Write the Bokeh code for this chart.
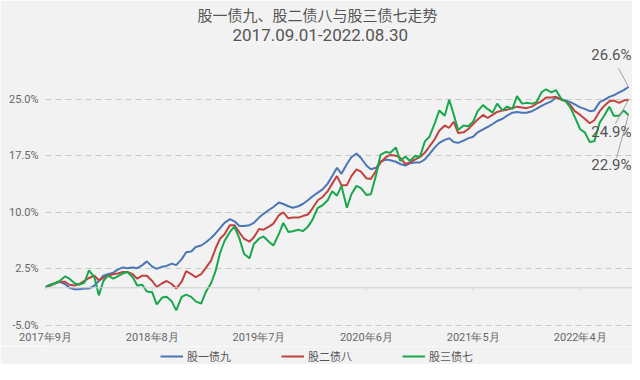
import pandas as pd
from bokeh.plotting import figure
from bokeh.layouts import column
from bokeh.models import (Range1d, FixedTicker, PrintfTickFormatter, Legend, LegendItem,
                          Span, Label, Title, ColumnDataSource)
from bokeh.embed import file_html
from bokeh.resources import INLINE

# ---------------- data ----------------
title_line1 = "股一债九、股二债八与股三债七走势"
title_line2 = "2017.09.01-2022.08.30"
series_names = ["股一债九", "股二债八", "股三债七"]
series_colors = ["#4a76b8", "#c0433f", "#17a84b"]
tick_dates = ["2017-09-01", "2018-08-01", "2019-07-01", "2020-06-01", "2021-05-01", "2022-04-01"]
tick_labels = ["2017年9月", "2018年8月", "2019年7月", "2020年6月", "2021年5月", "2022年4月"]
y_ticks = [-5.0, 2.5, 10.0, 17.5, 25.0]

# semi-monthly observation dates (1st and 15th) plus the final date
dates = list(pd.date_range("2017-09-01", periods=120, freq="SMS")) + [pd.Timestamp("2022-08-30")]

stock1_bond9 = [
    0.1, 0.3, 0.6, 0.8, 0.5, 0.0, -0.2, -0.2,
    -0.1, -0.1, 0.3, 0.9, 1.6, 1.8, 2.0, 2.4, 2.7, 2.6, 2.7, 2.6, 3.0, 3.5, 2.8, 2.5,
    2.8, 2.9, 3.2, 3.0, 3.8, 4.7, 4.8, 5.4,
    5.6, 6.0, 6.6, 7.2, 7.9, 8.6, 9.1, 8.8, 8.2, 8.2, 8.3, 8.6, 9.3, 9.8, 10.3, 10.7,
    11.3, 11.1, 10.8, 10.6, 10.8, 11.1, 11.6, 12.1,
    12.6, 13.0, 13.8, 14.8, 15.9, 15.1, 16.4, 17.3, 17.8, 17.2, 16.2, 15.7, 15.9, 16.7,
    17.0, 16.9, 16.7, 16.4, 16.2, 16.5, 16.6, 16.6, 17.0, 17.7,
    18.6, 19.2, 19.6, 19.8, 19.3, 19.2, 19.5, 19.8, 20.0, 20.6, 21.0, 21.3, 21.7, 22.1,
    22.4, 22.8, 23.2, 23.3, 23.2, 23.2, 23.4, 23.7, 24.1, 24.4,
    24.7, 25.2, 25.0, 24.8, 24.6, 24.3, 23.9, 23.7, 23.4, 23.5, 24.6, 24.9, 25.3, 25.5,
    25.9, 26.2, 26.6,
]
stock2_bond8 = [
    0.1, 0.3, 0.6, 0.8, 0.8, 0.4, 0.3, 0.5,
    0.9, 1.3, 1.6, 1.0, 1.3, 1.6, 1.8, 1.9, 2.1, 2.1, 1.8, 1.2, 1.6, 1.6, 0.9, 0.1,
    0.6, 0.9, 0.5, -0.1, 0.8, 2.2, 1.8, 1.4,
    1.8, 2.6, 3.6, 5.2, 6.5, 7.1, 8.3, 8.3, 7.3, 6.5, 6.1, 6.7, 7.8, 7.7, 8.1, 8.5,
    9.6, 10.0, 9.2, 9.3, 9.3, 9.5, 9.7, 10.5,
    11.6, 12.0, 12.8, 13.8, 14.8, 13.6, 13.6, 14.8, 15.7, 15.4, 14.5, 14.4, 15.5, 16.6,
    17.3, 17.6, 17.5, 17.2, 16.4, 16.6, 17.0, 17.3, 17.9, 18.7,
    19.7, 20.8, 21.5, 21.2, 22.0, 20.5, 20.6, 21.0, 21.7, 22.3, 22.9, 22.5, 22.9, 23.3,
    23.5, 23.6, 23.8, 24.0, 23.9, 23.8, 24.0, 24.4, 24.7, 25.2,
    25.2, 25.3, 24.9, 24.7, 24.2, 23.4, 22.9, 22.4, 21.8, 22.2, 23.4, 24.1, 24.7, 24.8,
    24.5, 24.8, 24.9,
]
stock3_bond7 = [
    0.1, 0.4, 0.6, 0.9, 1.5, 1.2, 0.6, 0.4,
    0.7, 2.3, 1.4, -1.0, 0.9, 1.6, 1.2, 1.5, 1.9, 2.1, 1.4, 0.3, 0.4, -0.5, -0.6, -2.2,
    -1.3, -1.2, -1.8, -3.0, -1.2, -0.9, -1.2, -1.8,
    -2.1, -0.6, 0.6, 2.2, 4.6, 6.2, 7.4, 8.1, 6.5, 4.5, 3.9, 5.8, 6.5, 6.8, 6.1, 5.6,
    7.1, 8.6, 7.4, 7.5, 7.7, 7.5, 8.1, 9.0,
    10.6, 10.9, 11.6, 12.8, 12.2, 13.5, 10.6, 12.4, 13.5, 13.2, 12.3, 12.4, 14.9, 17.6,
    18.0, 17.9, 18.6, 16.8, 17.4, 16.8, 17.5, 17.3, 19.4, 20.0,
    21.8, 23.5, 22.8, 24.9, 23.0, 20.9, 21.5, 21.4, 22.0, 23.4, 24.2, 23.7, 23.2, 24.4,
    23.5, 24.0, 23.7, 25.4, 24.4, 24.5, 24.4, 24.6, 25.9, 26.3,
    25.9, 26.2, 25.0, 24.7, 23.9, 22.6, 21.0, 20.6, 19.3, 19.4, 21.9, 22.8, 24.0, 22.8,
    22.8, 23.5, 22.9,
]
series_values = [stock1_bond9, stock2_bond8, stock3_bond7]

# ---------------- layout constants ----------------
PX_PER_DAY = 583 / 1824.0
PX_PER_UNIT = 7.6
BG = "#f2f2f2"
TXT = "#555555"

x_start = pd.Timestamp("2017-09-01")
x_end = pd.Timestamp("2022-08-30") + pd.Timedelta(days=4 / PX_PER_DAY)

p = figure(width=632, height=346, x_axis_type="datetime",
           x_range=Range1d(x_start, x_end),
           y_range=Range1d(-5.13, 32.63),
           output_backend="svg", toolbar_location=None, title=None,
           min_border_left=45, min_border_right=0, min_border_top=0, min_border_bottom=18,
           background_fill_color=BG, border_fill_color=BG, outline_line_color=None)

# titles
t2 = Title(text=title_line2, align="left", offset=187, text_font="Roboto",
           text_font_size="17px", text_font_style="normal", text_color=TXT, standoff=2)
t1 = Title(text=title_line1, align="left", offset=152, text_font="Noto Sans CJK SC",
           text_font_size="15px", text_font_style="normal", text_color=TXT, standoff=2)
p.add_layout(t2, "above")
p.add_layout(t1, "above")

# grid
p.xgrid.grid_line_color = None
p.ygrid.ticker = FixedTicker(ticks=y_ticks)
p.ygrid.grid_line_color = "#c9c9c9"
p.ygrid.grid_line_dash = "6 4"
p.ygrid.grid_line_width = 1

zero = Span(location=0, dimension="width", line_color="#d0d0d0", line_width=1)
p.add_layout(zero)
tick_ts = [pd.Timestamp(d) for d in tick_dates]
p.segment(x0=tick_ts, y0=[0] * len(tick_ts), x1=tick_ts, y1=[-0.4] * len(tick_ts),
          line_color="#d0d0d0", line_width=1)

# x axis
tick_ms = [float(pd.Timestamp(d).value // 10**6) for d in tick_dates]
xa = p.xaxis[0]
xa.ticker = FixedTicker(ticks=tick_ms)
xa.major_label_overrides = {t: l for t, l in zip(tick_ms, tick_labels)}
xa.axis_line_color = None
xa.major_tick_line_color = None
xa.minor_tick_line_color = None
xa.major_tick_out = 0
xa.minor_tick_out = 0
xa.major_label_standoff = 4
xa.major_label_text_font = "Roboto"
xa.major_label_text_font_size = "11px"
xa.major_label_text_color = "#666666"

# y axis
ya = p.yaxis[0]
ya.ticker = FixedTicker(ticks=y_ticks)
ya.formatter = PrintfTickFormatter(format="%.1f%%")
ya.axis_line_color = None
ya.major_tick_line_color = None
ya.minor_tick_line_color = None
ya.major_tick_out = 0
ya.minor_tick_out = 0
ya.major_label_standoff = 7
ya.major_label_text_font = "Roboto"
ya.major_label_text_font_size = "11px"
ya.major_label_text_color = "#666666"

# lines
sources = [ColumnDataSource(data=dict(x=dates, y=vals)) for vals in series_values]
for src, col in zip(sources, series_colors):
    p.line(x="x", y="y", source=src, line_color=col, line_width=2)

# end labels with leader lines
label_offsets = [(3, 32, -10, 19), (3, -32, -13, -24), (3, -50, -12, -43)]
for vals, (xo, yo, lx, ly) in zip(series_values, label_offsets):
    end_x = dates[-1]
    end_y = vals[-1]
    x1 = end_x + pd.Timedelta(days=lx / PX_PER_DAY)
    y1 = end_y + ly / PX_PER_UNIT
    p.segment(x0=[end_x], y0=[end_y], x1=[x1], y1=[y1], line_color="#a0a0a0", line_width=1)
    p.add_layout(Label(x=end_x, y=end_y, x_offset=xo, y_offset=yo, text=f"{end_y:.1f}%",
                       text_align="right", text_baseline="middle", text_font="Roboto",
                       text_font_size="15px", text_color=TXT))

# legend strip under the chart; it carries the same series (outside its view range)
lg = figure(width=632, height=18, x_range=Range1d(0, 1), y_range=Range1d(0, 1),
            x_axis_location=None, y_axis_location=None,
            output_backend="svg", toolbar_location=None, title=None,
            min_border_left=0, min_border_right=0, min_border_top=0, min_border_bottom=0,
            background_fill_color=BG, border_fill_color=BG, outline_line_color=None)
lg.xgrid.grid_line_color = None
lg.ygrid.grid_line_color = None
legend_renderers = [lg.line(x="x", y="y", source=src, line_color=col, line_width=2)
                    for src, col in zip(sources, series_colors)]
legend = Legend(items=[LegendItem(label=n, renderers=[r])
                       for n, r in zip(series_names, legend_renderers)],
                orientation="horizontal", location=(115, 0), spacing=50, glyph_width=23,
                glyph_height=14, label_standoff=4, label_height=14,
                label_text_font="Noto Sans CJK SC", label_text_font_size="11px",
                label_text_color=TXT, background_fill_alpha=0, border_line_color=None,
                padding=2, margin=0)
lg.add_layout(legend, "center")

layout = column(p, lg, spacing=0)

open("out.html", "w").write(file_html(layout, INLINE))
